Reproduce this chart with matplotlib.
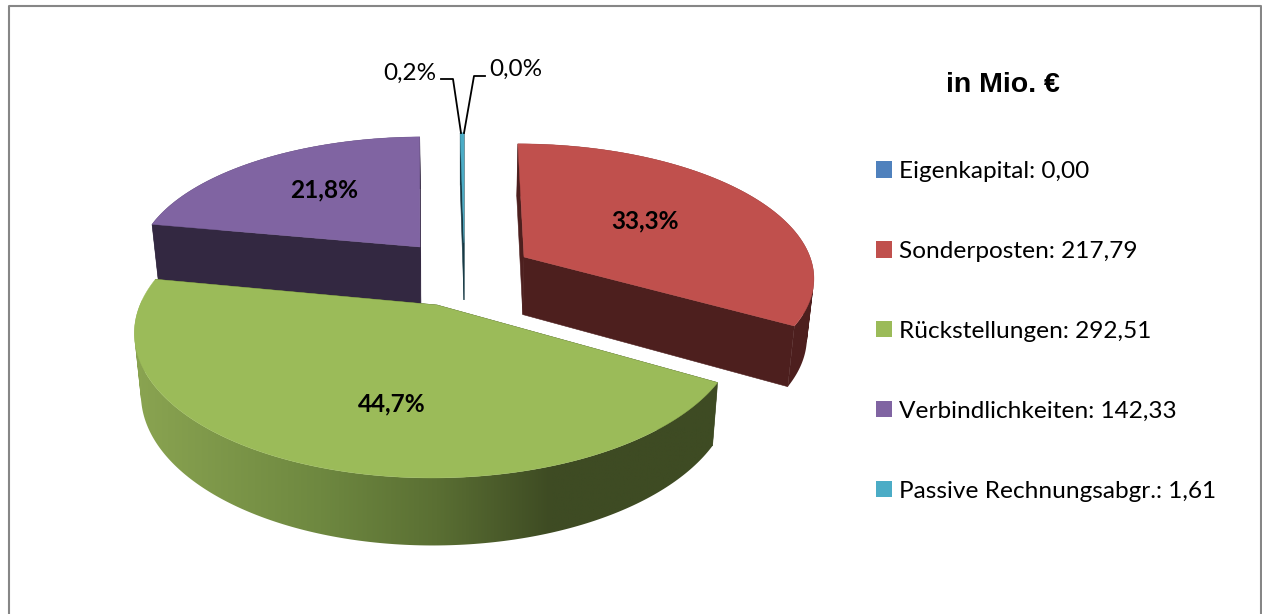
import numpy as np
import matplotlib
matplotlib.use("Agg")
import matplotlib.pyplot as plt
from matplotlib.patches import Patch, Polygon, PathPatch
from matplotlib.path import Path
from matplotlib.colors import LinearSegmentedColormap

names = ["Eigenkapital", "Sonderposten", "Rückstellungen", "Verbindlichkeiten", "Passive Rechnungsabgr."]
values = [0.00, 217.79, 292.51, 142.33, 1.61]
colors = ["#4f81bd", "#c0504d", "#9bbb59", "#8064a2", "#4bacc6"]
dark = ["#27405e", "#4d1f1e", "#3e4b23", "#332841", "#173a45"]

# each slice: vertex x, y, rx, ry, perspective k, shear
slice_geo = {
    1: (524, 257, 286, 129, 0.14, 7),
    2: (437, 305, 297, 142, 0.179, -4),
    3: (420, 247, 280, 124, 0.126, -4),
    4: (464, 243, 280, 124, 0.126, 0),
}

# lighting on the green outer wall, left to right
green_wall = LinearSegmentedColormap.from_list(
    "gw", [(0, "#8aa451"), (0.32, "#6e8840"), (0.52, "#5a6f33"), (0.715, "#3e4b23"), (1, "#3e4b23")])


def project(i, theta):
    vx, vy, rx, ry, k, sh = slice_geo[i]
    X = np.sin(theta)
    Y = -np.cos(theta)
    w = 1 - k * Y
    return vx + (rx * X + sh * Y) / w, vy + ry * Y / w


def lower(x, y):
    # matching point on the bottom face of the pie
    return 463 + (x - 463) * 0.98, y + 46 + 0.045 * y


def wall_path(x, y, lx, ly):
    # union of small quads so the silhouette edge of the wall is filled too
    quads = []
    for j in range(len(x) - 1):
        q = [(x[j], y[j]), (x[j + 1], y[j + 1]), (lx[j + 1], ly[j + 1]), (lx[j], ly[j])]
        qx, qy = np.array(q).T
        if np.dot(qx, np.roll(qy, -1)) - np.dot(qy, np.roll(qx, -1)) < 0:
            q = q[::-1]
        quads.append(Path(q + [q[0]], closed=True))
    return Path.make_compound_path(*quads)


fig = plt.figure(figsize=(12.62, 6.14), dpi=100)
ax = fig.add_axes([0, 0, 1, 1])
ax.axis("off")

ax.plot([8.5, 8.5, 1261, 1261], [614, 5.5, 5.5, 614], color="#868686", lw=1.5, solid_capstyle="butt")

total = sum(values)
angles = np.cumsum([0] + values) / total * 2 * np.pi
z = 2
for i in [3, 4, 1, 2]:
    t = np.linspace(angles[i], angles[i + 1], 200)
    x, y = project(i, t)
    vx, vy = slice_geo[i][:2]
    lx, ly = lower(x, y)
    lvx, lvy = lower(vx, vy)
    # inner walls
    for a in [0, -1]:
        ax.add_patch(Polygon([(vx, vy), (x[a], y[a]), (lx[a], ly[a]), (lvx, lvy)],
                             fc=dark[i], ec=dark[i], lw=0.4, zorder=z))
    # outer wall
    wall = wall_path(x, y, lx, ly)
    if i == 2:
        clip = PathPatch(wall, fc="none", ec="none", transform=ax.transData)
        ax.add_patch(clip)
        im = ax.imshow(np.linspace(0, 1, 256).reshape(1, -1), cmap=green_wall, aspect="auto",
                       extent=(134, 717, 560, 300), zorder=z)
        im.set_clip_path(clip)
    else:
        ax.add_patch(PathPatch(wall, fc=dark[i], ec="none", zorder=z))
    # top face
    ax.add_patch(Polygon(np.r_[[[vx, vy]], np.c_[x, y]], fc=colors[i], ec=colors[i], lw=0.3, zorder=z + 1))
    z += 2

ax.set_xlim(0, 1262)
ax.set_ylim(614, 0)

# percent labels
pct = [f"{v / total * 100:.1f}%".replace(".", ",") for v in values]
ax.text(645, 221, pct[1], ha="center", va="center", family="Lato", weight="bold", fontsize=17.6, zorder=20)
ax.text(392, 404, pct[2], ha="center", va="center", family="Lato", weight="bold", fontsize=17.6, zorder=20)
ax.text(324, 190, pct[3], ha="center", va="center", family="Lato", weight="bold", fontsize=17.6, zorder=20)
ax.text(410, 73, pct[4], ha="center", va="center", family="Lato", fontsize=17.5, zorder=20)
ax.text(516, 69, pct[0], ha="center", va="center", family="Lato", fontsize=17.5, zorder=20)

# leader lines
ax.plot([441, 453, 461], [79, 79, 133], color="black", lw=1.3, zorder=20)
ax.plot([485, 474, 464], [76, 76, 133], color="black", lw=1.3, zorder=20)

ax.text(1003, 85, "in Mio. €", ha="center", va="center", family="Liberation Sans", weight="bold", fontsize=20.5)

labels = [f"{n}: " + f"{v:.2f}".replace(".", ",") for n, v in zip(names, values)]
handles = [Patch(fc=c, ec="none") for c in colors]
ax.legend(handles, labels, loc="upper left", bbox_to_anchor=(876, 161), bbox_transform=ax.transData,
          frameon=False, prop={"family": "Lato", "size": 17.6}, handlelength=0.66, handleheight=0.66,
          handletextpad=0.28, labelspacing=2.41, borderpad=0, borderaxespad=0)

fig.savefig("out.png", dpi=100)
